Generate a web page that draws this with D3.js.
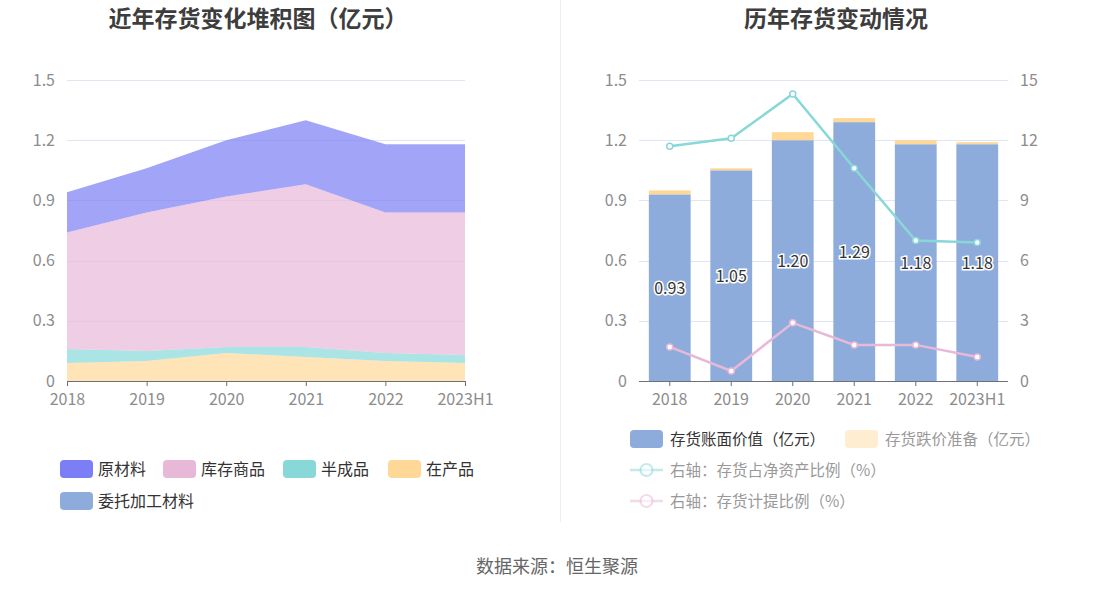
<!DOCTYPE html>
<html>
<head>
    <meta charset="utf-8" />
    <title>存货</title>
    <script src="https://cdn.jsdelivr.net/npm/d3@7/dist/d3.min.js"></script>
    <style>
        body { margin: 0; background: #fff; font-family: "Noto Sans CJK SC", "Noto Sans", sans-serif; }
        .axis text { fill: #8c8c8c; font-size: 16px; font-family: "Noto Sans CJK SC", sans-serif; }
        .grid line { stroke: #e0e6f1; }
    </style>
</head>
<body>
<script>
    // 数据
    var years = ['2018', '2019', '2020', '2021', '2022', '2023H1'];

    // 左图：堆积面积（亿元）
    var zaiChanPin = [0.09, 0.10, 0.14, 0.12, 0.10, 0.09];      // 在产品
    var banChengPin = [0.07, 0.05, 0.03, 0.05, 0.04, 0.04];     // 半成品
    var kuCunShangPin = [0.58, 0.69, 0.75, 0.81, 0.70, 0.71];   // 库存商品
    var yuanCaiLiao = [0.20, 0.22, 0.28, 0.32, 0.34, 0.34];     // 原材料
    var weiTuoJiaGong = [0, 0, 0, 0, 0, 0];                     // 委托加工材料
    var leftTicks = [0, 0.3, 0.6, 0.9, 1.2, 1.5];

    // 右图
    var bookValue = [0.93, 1.05, 1.20, 1.29, 1.18, 1.18];       // 存货账面价值
    var provision = [0.02, 0.01, 0.04, 0.02, 0.02, 0.01];       // 存货跌价准备
    var ratioNetAsset = [11.7, 12.1, 14.3, 10.6, 7.0, 6.9];     // 存货占净资产比例(%)
    var ratioProvision = [1.7, 0.5, 2.9, 1.8, 1.8, 1.2];        // 存货计提比例(%)
    var rightTicks = [0, 3, 6, 9, 12, 15];

    var svg = d3.select('body').append('svg').attr('width', 1114).attr('height', 593);

    // 标题
    svg.append('text').attr('x', 258).attr('y', 27).attr('text-anchor', 'middle')
        .style('font-size', '23px').style('font-weight', 'bold').style('fill', '#3d3d3d')
        .text('近年存货变化堆积图（亿元）');
    svg.append('text').attr('x', 836).attr('y', 27).attr('text-anchor', 'middle')
        .style('font-size', '23px').style('font-weight', 'bold').style('fill', '#3d3d3d')
        .text('历年存货变动情况');

    // 分隔线
    svg.append('line').attr('x1', 560.5).attr('x2', 560.5).attr('y1', 0).attr('y2', 522)
        .style('stroke', '#eeeeee');

    // ---------- 左图 ----------
    var lx = d3.scalePoint().domain(years).range([67, 465]);
    var ly = d3.scaleLinear().domain([0, 1.5]).range([381, 80]);

    var g1 = svg.append('g');
    g1.append('g').attr('class', 'grid').selectAll('line').data(leftTicks.slice(1)).enter()
        .append('line').attr('x1', 67).attr('x2', 465)
        .attr('y1', function (d) { return Math.round(ly(d)) + 0.5; })
        .attr('y2', function (d) { return Math.round(ly(d)) + 0.5; });

    var leftSeries = [
        { name: '在产品', vals: zaiChanPin, color: '#ffd898' },
        { name: '半成品', vals: banChengPin, color: '#88d8d8' },
        { name: '库存商品', vals: kuCunShangPin, color: '#e8b8d8' },
        { name: '原材料', vals: yuanCaiLiao, color: '#7b7ef5' },
        { name: '委托加工材料', vals: weiTuoJiaGong, color: '#8eacdb' }
    ];
    var table = years.map(function (y, i) {
        var row = { year: y };
        leftSeries.forEach(function (s) { row[s.name] = s.vals[i]; });
        return row;
    });
    var stack = d3.stack().keys(leftSeries.map(function (s) { return s.name; }));
    var layers = stack(table);
    var area = d3.area()
        .x(function (d) { return lx(d.data.year); })
        .y0(function (d) { return ly(d[0]); })
        .y1(function (d) { return ly(d[1]); });
    g1.selectAll('.layer').data(layers).enter().append('path')
        .attr('class', 'layer')
        .attr('d', area)
        .style('fill', function (d, i) { return leftSeries[i].color; })
        .style('fill-opacity', 0.7);

    var lAxisY = d3.axisLeft(ly).tickValues(leftTicks).tickSize(0).tickPadding(12)
        .tickFormat(function (d) { return d === 0 ? '0' : d3.format('.1f')(d); });
    g1.append('g').attr('class', 'axis').attr('transform', 'translate(67,0)').call(lAxisY)
        .call(function (g) { g.select('.domain').remove(); });

    var lAxisX = d3.axisBottom(lx).tickSize(5).tickPadding(8);
    g1.append('g').attr('class', 'axis').attr('transform', 'translate(0,381)').call(lAxisX)
        .call(function (g) {
            g.select('.domain').attr('d', 'M67,0.5H465').style('stroke', '#6e7079');
            g.selectAll('.tick line').style('stroke', '#6e7079');
        });

    // 左图图例
    var leftLegend = [
        { name: '原材料', color: '#7b7ef5', x: 60, y: 469 },
        { name: '库存商品', color: '#e8b8d8', x: 163, y: 469 },
        { name: '半成品', color: '#88d8d8', x: 283, y: 469 },
        { name: '在产品', color: '#ffd898', x: 388, y: 469 },
        { name: '委托加工材料', color: '#8eacdb', x: 60, y: 501 }
    ];
    var lg = svg.append('g').selectAll('g').data(leftLegend).enter().append('g')
        .attr('transform', function (d) { return 'translate(' + d.x + ',' + d.y + ')'; });
    lg.append('rect').attr('x', 0).attr('y', -9).attr('width', 33).attr('height', 18).attr('rx', 4)
        .style('fill', function (d) { return d.color; });
    lg.append('text').attr('x', 38).attr('y', 6).style('font-size', '16px').style('fill', '#333')
        .text(function (d) { return d.name; });

    // ---------- 右图 ----------
    var rx = d3.scaleBand().domain(years).range([639, 1008]);
    var ry = d3.scaleLinear().domain([0, 1.5]).range([381, 80]);
    var ry2 = d3.scaleLinear().domain([0, 15]).range([381, 80]);
    var barW = rx.bandwidth() * 0.68;

    var g2 = svg.append('g');
    g2.append('g').attr('class', 'grid').selectAll('line').data(leftTicks.slice(1)).enter()
        .append('line').attr('x1', 639).attr('x2', 1008)
        .attr('y1', function (d) { return Math.round(ry(d)) + 0.5; })
        .attr('y2', function (d) { return Math.round(ry(d)) + 0.5; });

    g2.selectAll('.bar1').data(bookValue).enter().append('rect')
        .attr('class', 'bar1')
        .attr('x', function (d, i) { return rx(years[i]) + (rx.bandwidth() - barW) / 2; })
        .attr('width', barW)
        .attr('y', function (d) { return ry(d); })
        .attr('height', function (d) { return ry(0) - ry(d); })
        .style('fill', '#8eacdb');
    g2.selectAll('.bar2').data(provision).enter().append('rect')
        .attr('class', 'bar2')
        .attr('x', function (d, i) { return rx(years[i]) + (rx.bandwidth() - barW) / 2; })
        .attr('width', barW)
        .attr('y', function (d, i) { return ry(bookValue[i] + d); })
        .attr('height', function (d, i) { return ry(bookValue[i]) - ry(bookValue[i] + d); })
        .style('fill', '#ffd898');

    var ryAxis = d3.axisLeft(ry).tickValues(leftTicks).tickSize(0).tickPadding(12)
        .tickFormat(function (d) { return d === 0 ? '0' : d3.format('.1f')(d); });
    g2.append('g').attr('class', 'axis').attr('transform', 'translate(639,0)').call(ryAxis)
        .call(function (g) { g.select('.domain').remove(); });
    var ry2Axis = d3.axisRight(ry2).tickValues(rightTicks).tickSize(0).tickPadding(12);
    g2.append('g').attr('class', 'axis').attr('transform', 'translate(1008,0)').call(ry2Axis)
        .call(function (g) { g.select('.domain').remove(); });

    var rAxisX = d3.axisBottom(rx).tickSize(5).tickPadding(8);
    g2.append('g').attr('class', 'axis').attr('transform', 'translate(0,381)').call(rAxisX)
        .call(function (g) {
            g.select('.domain').attr('d', 'M639,0.5H1008').style('stroke', '#6e7079');
            g.selectAll('.tick line').style('stroke', '#6e7079');
        });

    // 线
    var lineGen = d3.line()
        .x(function (d, i) { return rx(years[i]) + rx.bandwidth() / 2; })
        .y(function (d) { return ry2(d); });
    [{ vals: ratioNetAsset, color: '#88d8d8' }, { vals: ratioProvision, color: '#e8b8d8' }].forEach(function (s) {
        g2.append('path').datum(s.vals).attr('d', lineGen)
            .style('fill', 'none').style('stroke', s.color).style('stroke-width', 2.5);
        g2.selectAll(null).data(s.vals).enter().append('circle')
            .attr('cx', function (d, i) { return rx(years[i]) + rx.bandwidth() / 2; })
            .attr('cy', function (d) { return ry2(d); })
            .attr('r', 3)
            .style('fill', '#fff').style('stroke', s.color).style('stroke-width', 1.5);
    });

    // 柱子数值
    g2.selectAll('.lbl').data(bookValue).enter().append('text')
        .attr('x', function (d, i) { return rx(years[i]) + rx.bandwidth() / 2; })
        .attr('y', function (d) { return ry(d / 2) + 6; })
        .attr('text-anchor', 'middle')
        .style('font-size', '16px')
        .style('fill', '#333')
        .style('stroke', '#fff').style('stroke-width', 3).style('paint-order', 'stroke')
        .text(function (d) { return d3.format('.2f')(d); });

    // 右图图例
    var rl = svg.append('g');
    var r1 = rl.append('g').attr('transform', 'translate(630,439)');
    r1.append('rect').attr('y', -9).attr('width', 33).attr('height', 18).attr('rx', 4).style('fill', '#8eacdb');
    r1.append('text').attr('x', 40).attr('y', 6).style('font-size', '15.5px').style('fill', '#333').text('存货账面价值（亿元）');
    var r2 = rl.append('g').attr('transform', 'translate(845,439)');
    r2.append('rect').attr('y', -9).attr('width', 33).attr('height', 18).attr('rx', 4).style('fill', '#ffd898').style('opacity', 0.45);
    r2.append('text').attr('x', 40).attr('y', 6).style('font-size', '15.5px').style('fill', '#999').text('存货跌价准备（亿元）');
    [{ t: '右轴：存货占净资产比例（%）', c: '#88d8d8', y: 470 }, { t: '右轴：存货计提比例（%）', c: '#e8b8d8', y: 501 }].forEach(function (d) {
        var g = rl.append('g').attr('transform', 'translate(630,' + d.y + ')');
        g.append('line').attr('x1', 0).attr('x2', 33).attr('y1', 0).attr('y2', 0)
            .style('stroke', d.c).style('stroke-width', 2.5).style('opacity', 0.5);
        g.append('circle').attr('cx', 16.5).attr('cy', 0).attr('r', 6)
            .style('fill', '#fff').style('stroke', d.c).style('stroke-width', 2).style('opacity', 0.5);
        g.append('text').attr('x', 40).attr('y', 6).style('font-size', '15.5px').style('fill', '#999').text(d.t);
    });

    // 数据来源
    svg.append('text').attr('x', 557).attr('y', 573).attr('text-anchor', 'middle')
        .style('font-size', '18px').style('fill', '#666').text('数据来源：恒生聚源');
</script>
</body>
</html>
